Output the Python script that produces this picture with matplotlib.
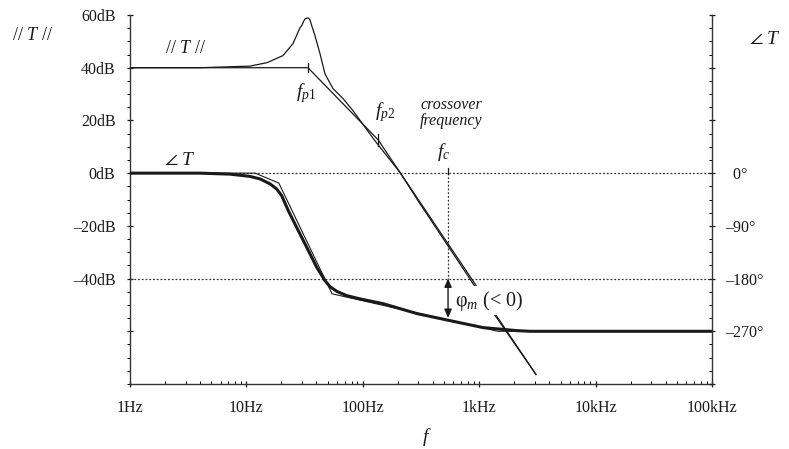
import numpy as np
import matplotlib
matplotlib.use('Agg')
import matplotlib.pyplot as plt
from matplotlib.ticker import FixedLocator, LogLocator, NullFormatter, MultipleLocator

plt.rcParams['font.family'] = ['Liberation Serif', 'DejaVu Serif', 'DejaVu Sans']
plt.rcParams['mathtext.fontset'] = 'custom'
plt.rcParams['mathtext.rm'] = 'Liberation Serif'
plt.rcParams['mathtext.it'] = 'Liberation Serif:italic'
plt.rcParams['mathtext.fallback'] = 'stix'

# ||T|| in dB
f_mag = [1, 4, 10.7, 15.0, 20.6, 25.1, 28.9, 29.9, 31.0, 31.9, 33.3, 34.3, 35.2, 36.4, 38.8,
         42.9, 47.3, 55.4, 67.6, 82.4, 127, 209, 310, 885, 3076]
mag_db = [40, 40, 40.6, 41.9, 44.6, 49.1, 55.2, 56.0, 57.6, 58.5, 58.9, 58.8, 58.1, 56.0, 52.2,
          45.3, 37.7, 32.1, 28.3, 23.7, 12.3, 0.2, -11.6, -41.9, -76.4]
# asymptotes of ||T||
f_mag_asym = [1, 33.8, 135, 3076]
mag_asym_db = [40, 40, 12.7, -76.4]

# phase of T in degrees
f_ph = [1, 4, 7.23, 10.7, 13.1, 16.0, 18.2, 20.1, 22.9, 27.0, 33.0, 40.2, 47.3,
        52.2, 59.7, 72.7, 94.7, 149, 292, 561, 1079, 2113, 2730, 1e5]
ph_deg = [0, 0, -1.7, -5.5, -9.9, -18.4, -27, -38.4, -64, -92.5, -126.7, -160.8, -183.5,
          -193.7, -201.8, -209.1, -214.7, -222.8, -239.8, -251.8, -263.7, -268.9, -270, -270]
f_ph_asym = [1, 11.9, 19.0, 54.4, 1449, 1e5]
ph_asym_deg = [0, 0, -17, -206, -270, -270]

fp1, fp1_db = 33.8, 40
fp2, fp2_db = 135, 12.7
fc = 540
ph_fc = -247

db_ticks = [60, 40, 20, 0, -20, -40, -60]
db_labels = ['60dB', '40dB', '20dB', '0dB', '–20dB', '–40dB', '']
deg_ticks = [270, 180, 90, 0, -90, -180, -270, -360]
deg_labels = ['', '', '', '\u20020°', '–90°', '–180°', '–270°', '']
f_ticks = [1, 10, 100, 1e3, 1e4, 1e5]
f_labels = ['1Hz', '10Hz', '100Hz', '1kHz', '10kHz', '100kHz']

ink = '#1a1a1a'
fig = plt.figure(figsize=(7.89, 4.49), dpi=100)
ax = fig.add_axes([130/789, 65/449, 582/789, 369/449])
ax.set_xscale('log')
ax.set_xlim(1, 1e5)
ax.set_ylim(-80, 60)
ax2 = ax.twinx()
ax2.set_ylim(-360, 270)

for s in ['top', 'right']:
    ax.spines[s].set_visible(False)
for s in ['top', 'left', 'bottom']:
    ax2.spines[s].set_visible(False)
for a in (ax, ax2):
    for s in a.spines.values():
        s.set_color('#333333')
        s.set_linewidth(1.0)

ax.xaxis.set_major_locator(FixedLocator(f_ticks))
ax.set_xticklabels(f_labels)
ax.xaxis.set_minor_locator(LogLocator(base=10, subs=np.arange(2, 10)))
ax.xaxis.set_minor_formatter(NullFormatter())
ax.yaxis.set_major_locator(FixedLocator(db_ticks))
ax.set_yticklabels(db_labels)
ax.yaxis.set_minor_locator(MultipleLocator(5))
ax2.yaxis.set_major_locator(FixedLocator(deg_ticks))
ax2.set_yticklabels(deg_labels)
ax2.yaxis.set_minor_locator(MultipleLocator(22.5))

ax.tick_params(axis='x', which='major', direction='inout', length=5, width=0.9,
               pad=9, labelsize=11.5, colors=ink)
ax.tick_params(axis='x', which='minor', direction='in', length=2.5, width=0.7)
ax.tick_params(axis='y', which='major', direction='inout', length=5, width=0.9,
               pad=8, labelsize=11.5, colors=ink)
ax.tick_params(axis='y', which='minor', direction='out', length=2.5, width=0.7)
ax2.tick_params(axis='y', which='major', direction='inout', length=5, width=0.9,
                pad=7, labelsize=11.5, colors=ink)
ax2.tick_params(axis='y', which='minor', direction='in', length=2.5, width=0.7)
for lab in ax2.get_yticklabels():
    lab.set_horizontalalignment('left')

# dotted reference lines
dots = dict(color='#333333', lw=0.9, ls=(0, (1.5, 1.5)))
ax.axhline(0, **dots)
ax.axhline(-40, **dots)
ax.plot([fc, fc], [0, -40], **dots)
ax.plot([fc, fc], [-0.3, 1.8], color=ink, lw=0.9)

# magnitude
ax.plot(f_mag, mag_db, color=ink, lw=0.9)
ax.plot(f_mag_asym, mag_asym_db, color=ink, lw=0.9)
ax.plot([fp1, fp1], [fp1_db - 1.6, fp1_db + 1.8], color=ink, lw=0.9)
ax.plot([fp2, fp2], [fp2_db - 2.5, fp2_db + 2.0], color=ink, lw=0.9)

# phase
ax2.plot(f_ph_asym, ph_asym_deg, color=ink, lw=0.8)
ax2.plot(f_ph, ph_deg, color=ink, lw=2.2, solid_capstyle='round')

# phase margin arrow and label
ax2.annotate('', xy=(fc, ph_fc), xytext=(fc, -180),
             arrowprops=dict(arrowstyle='<|-|>,head_length=0.5,head_width=0.22',
                             color=ink, lw=1.0, shrinkA=0, shrinkB=0))
ax2.text(620, -218, r'$\mathrm{φ}_{m}$ (< 0)', fontsize=14.5, ha='left', va='center',
         color=ink, bbox=dict(boxstyle='square,pad=0.12', fc='white', ec='none'))

# labels in the plot
ax.text(2.97, 47.2, r'// $T$ //', fontsize=13, ha='center', va='center', color=ink)
ax.text(2.69, 4.9, r'$\angle\;T$', fontsize=14, ha='center', va='center', color=ink)
ax.text(32.5, 30.5, r'$f_{p\mathit{1}}$', fontsize=14, ha='center', va='center', color=ink)
ax.text(155, 23, r'$f_{p\mathit{2}}$', fontsize=14, ha='center', va='center', color=ink)
ax.text(572, 22.8, 'crossover\nfrequency', fontsize=11.5, style='italic',
        ha='center', va='center', linespacing=1.05, color=ink)
ax.text(499, 8.2, r'$f_{c}$', fontsize=14, ha='center', va='center', color=ink)

fig.text(33/789, 1 - 35/449, r'// $T$ //', fontsize=13, ha='center', va='center', color=ink)
fig.text(765/789, 1 - 40/449, r'$\angle\;T$', fontsize=14, ha='center', va='center', color=ink)
fig.text(427/789, 1 - 437/449, r'$f$', fontsize=14, ha='center', va='center', color=ink)

fig.savefig('out.png', dpi=100)
